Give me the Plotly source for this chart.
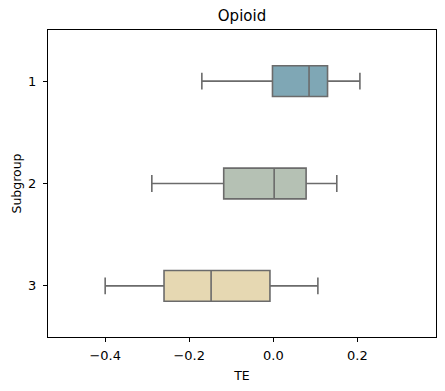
import plotly.graph_objects as go

subgroups = ["1", "2", "3"]
lower_whisker = [-0.170, -0.289, -0.400]
q1_vals = [-0.002, -0.118, -0.260]
median_vals = [0.085, 0.002, -0.148]
q3_vals = [0.129, 0.078, -0.008]
upper_whisker = [0.206, 0.151, 0.106]
box_colors = ["#7fa7b5", "#b5c1b4", "#e6d8b2"]

x_tickvals = [-0.4, -0.2, 0.0, 0.2]
x_ticktext = ["\u22120.4", "\u22120.2", "0.0", "0.2"]

fig = go.Figure()
for i, g in enumerate(subgroups):
    fig.add_trace(go.Box(
        y=[g],
        q1=[q1_vals[i]], median=[median_vals[i]], q3=[q3_vals[i]],
        lowerfence=[lower_whisker[i]], upperfence=[upper_whisker[i]],
        orientation="h",
        fillcolor=box_colors[i],
        line=dict(color="#6b6b6b", width=1.6),
        width=0.3,
        whiskerwidth=0.55,
        boxpoints=False,
        showlegend=False,
        hoverinfo="skip",
    ))

fig.update_layout(
    width=445, height=391,
    margin=dict(l=48, r=9, t=30, b=54),
    paper_bgcolor="white", plot_bgcolor="white",
    boxmode="overlay",
    font=dict(family="DejaVu Sans", size=12.5, color="black"),
    title=dict(text="Opioid", x=(48 + 436) / 2 / 445, xanchor="center",
               y=1 - 16 / 391, yanchor="middle",
               font=dict(size=15, color="black")),
)
fig.update_xaxes(
    range=[-0.536, 0.387],
    tickvals=x_tickvals, ticktext=x_ticktext,
    tickfont=dict(size=13),
    ticks="outside", ticklen=4, tickwidth=1, tickcolor="black",
    ticklabelstandoff=2,
    showline=True, linecolor="black", linewidth=1, mirror=True,
    showgrid=False, zeroline=False, automargin=False,
    title=dict(text="TE", standoff=9, font=dict(size=12.5)),
)
fig.update_yaxes(
    type="category", categoryorder="array", categoryarray=subgroups,
    range=[2.5, -0.5],
    tickfont=dict(size=13),
    ticks="outside", ticklen=4, tickwidth=1, tickcolor="black",
    ticklabelstandoff=4,
    showline=True, linecolor="black", linewidth=1, mirror=True,
    showgrid=False, zeroline=False, automargin=False,
    title=dict(text="Subgroup", standoff=3, font=dict(size=12.5)),
)

fig.write_html(
    "out.html",
    config={"displayModeBar": False},
    post_script="document.body.style.margin='0px';document.body.style.overflow='hidden';",
)
